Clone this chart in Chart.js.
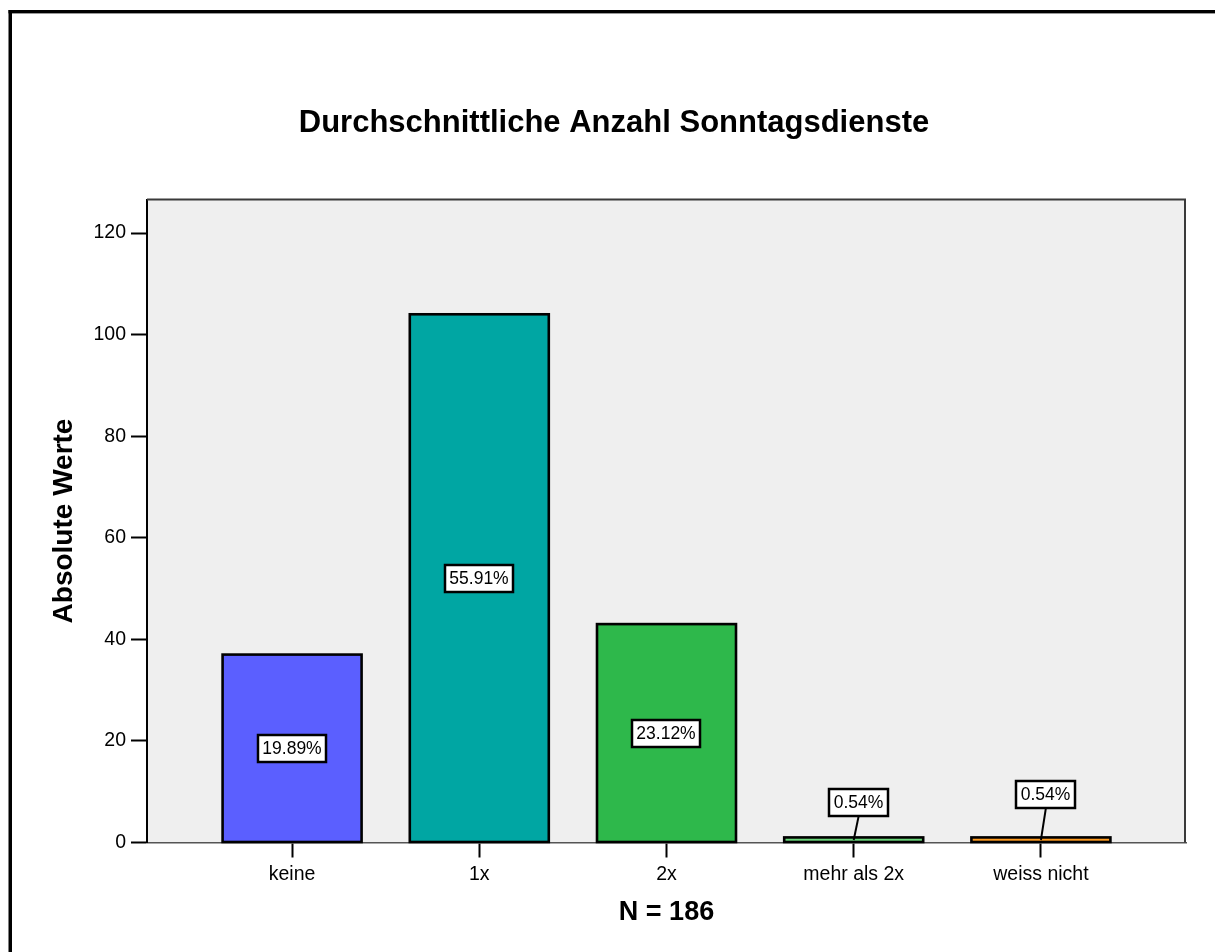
<!DOCTYPE html>
<html>
<head>
<meta charset="utf-8">
<script src="https://cdn.jsdelivr.net/npm/chart.js@4.4.1/dist/chart.umd.min.js"></script>
<style>
  html, body { margin: 0; padding: 0; background: #fff; }
  #wrap { position: relative; width: 1215px; height: 952px; }
</style>
</head>
<body>
<div id="wrap"><canvas id="c" width="1215" height="952"></canvas></div>
<script>
// Survey answers: average number of Sunday shifts
const categories = ['keine', '1x', '2x', 'mehr als 2x', 'weiss nicht'];
const counts = [37, 104, 43, 1, 1];
const barColors = ['#5B5FFF', '#00A6A3', '#2EB84B', '#6CD67C', '#FF9C22'];
const yTicks = [0, 20, 40, 60, 80, 100, 120];
const yMax = 126.6;

const sampleSize = counts.reduce((a, b) => a + b, 0);
const chartTitle = 'Durchschnittliche Anzahl Sonntagsdienste';
const yTitle = 'Absolute Werte';
const xTitle = 'N = ' + sampleSize;

const FONT = '"Liberation Sans", Arial, Helvetica, sans-serif';
Chart.defaults.font.family = FONT;
Chart.defaults.color = '#000';

// Outer frame, grey plot background and the plot border
const framePlugin = {
  id: 'frame',
  beforeDraw(chart) {
    const { ctx, chartArea: a } = chart;
    ctx.save();
    ctx.fillStyle = '#fff';
    ctx.fillRect(0, 0, chart.width, chart.height);
    ctx.fillStyle = '#000';
    ctx.fillRect(8.5, 10, chart.width, 3.4);
    ctx.fillRect(8.5, 10, 3.5, chart.height);
    ctx.fillStyle = '#EFEFEF';
    ctx.fillRect(a.left, a.top, a.right - a.left, a.bottom - a.top);
    ctx.restore();
  },
  beforeDatasetsDraw(chart) {
    const { ctx, chartArea: a } = chart;
    ctx.save();
    ctx.strokeStyle = '#3a3a3a';
    ctx.lineWidth = 2;
    ctx.beginPath();
    ctx.moveTo(a.left, a.top);
    ctx.lineTo(a.right - 1, a.top);
    ctx.lineTo(a.right - 1, a.bottom);
    ctx.stroke();
    ctx.restore();
  }
};

// Black outline centred on each bar edge (so flat bars keep their colour)
const barOutline = {
  id: 'barOutline',
  afterDatasetsDraw(chart, args, opts) {
    const ctx = chart.ctx;
    ctx.save();
    ctx.strokeStyle = '#000';
    ctx.lineWidth = opts.width;
    chart.getDatasetMeta(0).data.forEach((bar) => {
      const half = bar.width / 2;
      ctx.strokeRect(bar.x - half, bar.y, bar.width, bar.base - bar.y);
    });
    ctx.restore();
  }
};

// Percentage boxes: inside tall bars, on a leader line above flat bars
const percentLabels = {
  id: 'percentLabels',
  afterDatasetsDraw(chart, args, opts) {
    const ctx = chart.ctx;
    const meta = chart.getDatasetMeta(0);
    ctx.save();
    ctx.font = opts.font;
    ctx.textAlign = 'center';
    ctx.textBaseline = 'middle';
    meta.data.forEach((bar, i) => {
      const text = (counts[i] / sampleSize * 100).toFixed(2) + '%';
      const w = Math.round(ctx.measureText(text).width + 2 * opts.padX);
      const h = opts.boxHeight;
      let cx = bar.x;
      let cy = (bar.y + bar.base) / 2;
      if (bar.base - bar.y < h + 6) {
        cx = bar.x + opts.shiftX;
        cy = bar.y - opts.rise[i];
        ctx.strokeStyle = '#000';
        ctx.lineWidth = 2;
        ctx.beginPath();
        ctx.moveTo(bar.x, bar.base - 2);
        ctx.lineTo(cx, cy + h / 2);
        ctx.stroke();
      }
      const x0 = Math.round(cx - w / 2), y0 = Math.round(cy - h / 2);
      ctx.fillStyle = '#fff';
      ctx.fillRect(x0, y0, w, h);
      ctx.strokeStyle = '#000';
      ctx.lineWidth = 2.5;
      ctx.strokeRect(x0, y0, w, h);
      ctx.fillStyle = '#000';
      ctx.fillText(text, x0 + w / 2, y0 + h / 2 + 1);
    });
    ctx.restore();
  }
};

new Chart(document.getElementById('c'), {
  type: 'bar',
  data: {
    datasets: [{
      data: counts.map((v, i) => ({ x: i, y: v })),
      backgroundColor: barColors,
      borderWidth: 0,
      barThickness: 139
    }]
  },
  options: {
    responsive: false,
    animation: false,
    devicePixelRatio: 1,
    layout: { padding: { left: 42, right: 29, top: 0, bottom: 0 } },
    plugins: {
      legend: { display: false },
      tooltip: { enabled: false },
      title: {
        display: true,
        text: chartTitle,
        color: '#000',
        font: { size: 31, weight: 'bold', family: FONT, lineHeight: 1.2 },
        padding: { top: 105, bottom: 57.3 }
      },
      barOutline: { width: 2.6 },
      percentLabels: {
        font: '17.5px ' + FONT,
        padX: 4.5,
        boxHeight: 27,
        shiftX: 5,
        rise: [0, 0, 0, 35, 43]
      }
    },
    scales: {
      x: {
        type: 'linear',
        min: -0.775,
        max: categories.length - 1 + 0.775,
        offset: false,
        afterBuildTicks(s) { s.ticks = categories.map((_, i) => ({ value: i })); },
        afterFit(s) { s.height = 109.5; },
        ticks: {
          callback: (v) => categories[v],
          font: { size: 19.5, family: FONT },
          color: '#000',
          padding: 5,
          maxRotation: 0,
          autoSkip: false
        },
        grid: {
          offset: false,
          drawOnChartArea: false,
          drawTicks: true,
          tickLength: 15,
          tickWidth: 2,
          tickColor: '#000',
          color: 'rgba(0,0,0,0)'
        },
        border: { display: true, color: '#555', width: 1.5 },
        title: {
          display: true,
          text: xTitle,
          color: '#000',
          font: { size: 27, weight: 'bold', family: FONT, lineHeight: 1.2 },
          padding: { top: 0, bottom: 23 }
        }
      },
      y: {
        min: 0,
        max: yMax,
        afterBuildTicks(s) { s.ticks = yTicks.map(v => ({ value: v })); },
        afterFit(s) { s.width = 105; },
        ticks: {
          font: { size: 19.5, family: FONT },
          color: '#000',
          padding: 5
        },
        grid: {
          drawOnChartArea: false,
          drawTicks: true,
          tickLength: 16,
          tickWidth: 2,
          tickColor: '#000',
          color: 'rgba(0,0,0,0)'
        },
        border: { display: true, color: '#000', width: 2 },
        title: {
          display: true,
          text: yTitle,
          color: '#000',
          font: { size: 28, weight: 'bold', family: FONT, lineHeight: 1.2 },
          padding: { top: 5, bottom: 0 }
        }
      }
    }
  },
  plugins: [framePlugin, barOutline, percentLabels]
});
</script>
</body>
</html>
